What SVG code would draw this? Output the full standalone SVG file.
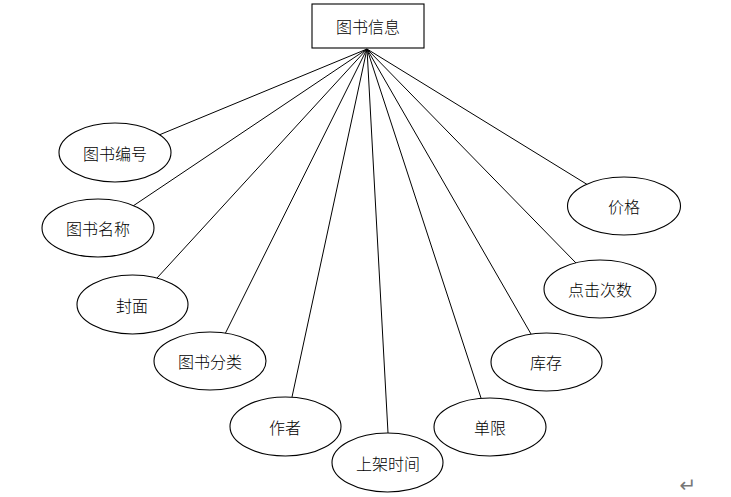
<svg xmlns="http://www.w3.org/2000/svg" width="731" height="497" viewBox="0 0 731 497">
<style>
.shape{fill:#fff;stroke:#000;stroke-width:1.1}
.conn line{stroke:#000;stroke-width:1}
.lbl{font-family:"Noto Sans CJK SC","Noto Sans",sans-serif;font-size:16px;font-weight:300;fill:#000;text-anchor:middle;dominant-baseline:central}
</style>
<rect width="731" height="497" fill="#fff"/>
<g id="connectors" class="conn">
<line x1="367" y1="49" x2="159" y2="135"/>
<line x1="367" y1="49" x2="133" y2="206"/>
<line x1="367" y1="49" x2="157" y2="278"/>
<line x1="367" y1="49" x2="225" y2="334"/>
<line x1="367" y1="49" x2="292" y2="397"/>
<line x1="367" y1="49" x2="388" y2="433"/>
<line x1="367" y1="49" x2="481" y2="398"/>
<line x1="367" y1="49" x2="531" y2="334"/>
<line x1="367" y1="49" x2="576" y2="263"/>
<line x1="367" y1="49" x2="588" y2="185"/>
</g>
<g id="entity">
<rect class="shape" x="312" y="4" width="112" height="44"/>
<text class="lbl" x="368" y="26">图书信息</text>
</g>
<g id="attr-bianhao">
<ellipse class="shape" cx="115" cy="152.5" rx="56" ry="29.5"/>
<text class="lbl" x="115" y="153">图书编号</text>
</g>
<g id="attr-mingcheng">
<ellipse class="shape" cx="98" cy="228" rx="56" ry="29"/>
<text class="lbl" x="98" y="228">图书名称</text>
</g>
<g id="attr-fengmian">
<ellipse class="shape" cx="132.5" cy="304.5" rx="55.5" ry="29.5"/>
<text class="lbl" x="132" y="305">封面</text>
</g>
<g id="attr-fenlei">
<ellipse class="shape" cx="210" cy="361" rx="56" ry="29"/>
<text class="lbl" x="210" y="361">图书分类</text>
</g>
<g id="attr-zuozhe">
<ellipse class="shape" cx="285.5" cy="426.5" rx="55.5" ry="29.5"/>
<text class="lbl" x="285" y="427">作者</text>
</g>
<g id="attr-shangjia">
<ellipse class="shape" cx="387.5" cy="462.5" rx="55.5" ry="29.5"/>
<text class="lbl" x="388" y="463">上架时间</text>
</g>
<g id="attr-danxian">
<ellipse class="shape" cx="490" cy="427" rx="56" ry="29"/>
<text class="lbl" x="490" y="427">单限</text>
</g>
<g id="attr-kucun">
<ellipse class="shape" cx="546.5" cy="362" rx="55.5" ry="29"/>
<text class="lbl" x="546" y="362">库存</text>
</g>
<g id="attr-dianji">
<ellipse class="shape" cx="600" cy="289" rx="56" ry="29"/>
<text class="lbl" x="600" y="289">点击次数</text>
</g>
<g id="attr-jiage">
<ellipse class="shape" cx="624" cy="206" rx="56.5" ry="29"/>
<text class="lbl" x="624" y="206">价格</text>
</g>
<text x="688" y="485" style="font-family:'DejaVu Sans',sans-serif;font-size:20px;fill:#777;text-anchor:middle;dominant-baseline:central">↵</text>
</svg>
